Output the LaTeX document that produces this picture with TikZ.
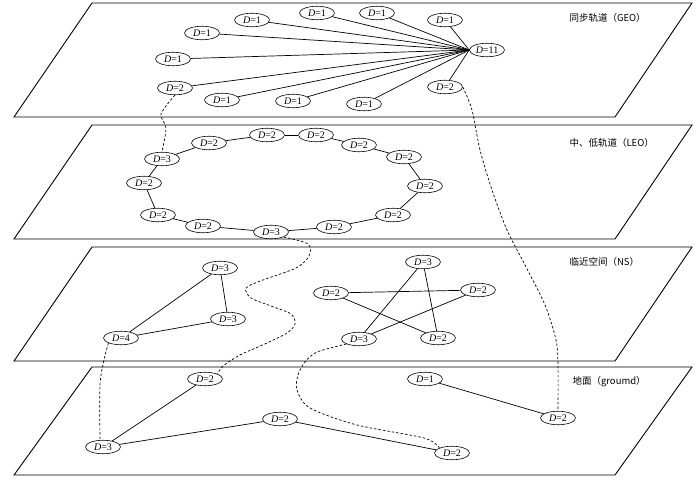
\documentclass[tikz,border=0pt]{standalone}
\usepackage{fontspec}
\setmainfont{Liberation Serif}
\newfontfamily\cjk{Noto Sans CJK SC}
\usepackage{tikz}
\usetikzlibrary{shapes.geometric}

\newcommand{\dval}[1]{\textit{D}=#1}

\begin{document}
\begin{tikzpicture}[x=1pt,y=-1pt,
  sat/.style={draw,ellipse,line width=0.6pt,inner sep=0.5pt,minimum width=35pt,
    minimum height=13.5pt,fill=white,font=\fontsize{10}{11}\selectfont},
  plane/.style={draw,line width=0.9pt},
  link/.style={line width=0.7pt,dash pattern=on 2.5pt off 2pt},
  every edge/.style={draw,line width=0.7pt},
  tag/.style={anchor=west,font={\cjk\fontsize{9.5}{10}\selectfont}}]
  \useasboundingbox (0,0) rectangle (700,486);

  % the four planes
  \foreach \t/\b in {3/117,125/239,247/361,367/475}
    \draw[plane] (92,\t) -- (692,\t) -- (615,\b) -- (14,\b) -- cycle;

  \node[tag] (geo) at (566,18) {同步轨道（GEO）};
  \node[tag] (leo) at (566,143) {中、低轨道（LEO）};
  \node[tag] (ns) at (566,262) {临近空间（NS）};
  \node[tag] (gnd) at (569,382) {地面（groumd）};

  % GEO
  \node[sat] (hub) at (487,50) {\dval{11}};
  \node[sat] (g1) at (202,33) {\dval{1}};
  \node[sat] (g2) at (252,20) {\dval{1}};
  \node[sat] (g3) at (317,13) {\dval{1}};
  \node[sat] (g4) at (377,13) {\dval{1}};
  \node[sat] (g5) at (445,20) {\dval{1}};
  \node[sat] (g6) at (173,59) {\dval{1}};
  \node[sat] (g7) at (175,88) {\dval{2}};
  \node[sat] (g8) at (222,100) {\dval{1}};
  \node[sat] (g9) at (293,101) {\dval{1}};
  \node[sat] (g10) at (364,104) {\dval{1}};
  \node[sat] (g11) at (445,87) {\dval{2}};

  \path (hub.west) edge (g1) edge (g2) edge (g3) edge (g4) edge (g5)
                   edge (g6) edge (g7) edge (g8) edge (g9) edge (g10)
                   edge (g11);

  % LEO
  \node[sat] (l1) at (209,143) {\dval{2}};
  \node[sat] (l2) at (267,135) {\dval{2}};
  \node[sat] (l3) at (316,135) {\dval{2}};
  \node[sat] (l4) at (359,145) {\dval{2}};
  \node[sat] (l5) at (404,157) {\dval{2}};
  \node[sat] (l6) at (425,186) {\dval{2}};
  \node[sat] (l7) at (393,215) {\dval{2}};
  \node[sat] (l8) at (334,227) {\dval{2}};
  \node[sat] (l9) at (271,232) {\dval{3}};
  \node[sat] (l10) at (203,226) {\dval{2}};
  \node[sat] (l11) at (158,215) {\dval{2}};
  \node[sat] (l12) at (144,183) {\dval{2}};
  \node[sat] (l13) at (162,159) {\dval{3}};

  \foreach \a/\b in {1/2,2/3,3/4,4/5,5/6,6/7,7/8,8/9,9/10,10/11,11/12,12/13,13/1}
    \path (l\a) edge (l\b);

  % NS
  \node[sat] (n1) at (220,268) {\dval{3}};
  \node[sat] (n2) at (228,319) {\dval{3}};
  \node[sat] (n3) at (121,338) {\dval{4}};
  \node[sat] (n4) at (423,262) {\dval{3}};
  \node[sat] (n5) at (331,293) {\dval{2}};
  \node[sat] (n6) at (478,290) {\dval{2}};
  \node[sat] (n7) at (359,339) {\dval{3}};
  \node[sat] (n8) at (438,338) {\dval{2}};

  \path (n1) edge (n2) edge (n3);
  \path (n3) edge (n2);
  \path (n4) edge (n7) edge (n8);
  \path (n5) edge (n6) edge (n8);
  \path (n6) edge (n7);

  % ground
  \node[sat] (d1) at (205,379) {\dval{2}};
  \node[sat] (d2) at (103,447) {\dval{3}};
  \node[sat] (d3) at (280,419) {\dval{2}};
  \node[sat] (d4) at (452,453) {\dval{2}};
  \node[sat] (d5) at (425,379) {\dval{1}};
  \node[sat] (d6) at (558,418) {\dval{2}};

  \path (d1) edge (d2);
  \path (d2) edge (d3);
  \path (d3) edge (d4);
  \path (d5) edge (d6);

  % links between layers
  \draw[link] plot[smooth] coordinates {(g7.south) (161,114) (166,128) (l13.north)};
  \draw[link] plot[smooth] coordinates {(g11.east) (472,110) (480,150) (492,190)
    (507,230) (525,265) (545,305) (556,340) (558,365) (d6.north)};
  \draw[link] plot[smooth] coordinates {(l9.south east) (308,244) (309,256) (296,268)
    (263,280) (246,288) (251,298) (271,306) (291,314) (295,324) (287,333)
    (267,343) (240,355) (223,366) (d1.north east)};
  \draw[link] plot[smooth] coordinates {(n3.south west) (104,360) (100,385) (100,441)};
  \draw[link] plot[smooth] coordinates {(n7.south west) (317,352) (305,362) (298,375)
    (297,390) (310,408) (357,425) (424,438) (d4.north west)};
\end{tikzpicture}
\end{document}
